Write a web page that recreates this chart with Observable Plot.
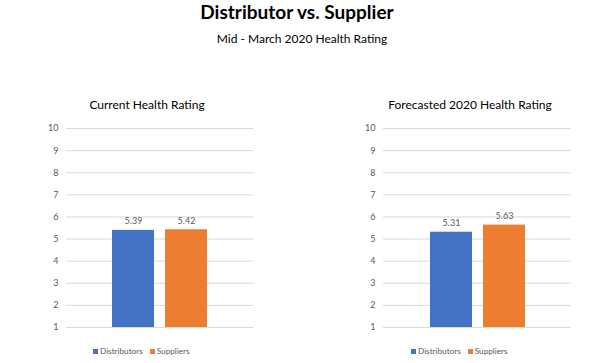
<!DOCTYPE html>
<html>
<head>
<meta charset="utf-8">
<script src="https://cdn.jsdelivr.net/npm/d3@7"></script>
<script src="https://cdn.jsdelivr.net/npm/@observablehq/plot@0.6"></script>
<style>
  html, body { margin: 0; padding: 0; background: #fff; }
  #root { position: relative; width: 616px; height: 363px; overflow: hidden; font-family: Lato, "Open Sans", sans-serif; color: #000; }
  .t { position: absolute; white-space: nowrap; transform: translateX(-50%); line-height: 1; }
  #title { left: 297px; top: 2px; font-size: 19px; font-weight: bold; }
  #subtitle { left: 302px; top: 33px; font-size: 12px; }
  .ptitle { top: 99px; font-size: 12px; }
  .plot { position: absolute; top: 118px; }
  .legend { position: absolute; top: 347px; font-size: 8.2px; color: #595959; white-space: nowrap; line-height: 1; }
  .legend span.sw { display: inline-block; width: 5px; height: 5px; margin-right: 2px; vertical-align: 0px; }
  .legend span.item { margin-right: 7px; }
</style>
</head>
<body>
<div id="root">
  <div id="title" class="t">Distributor vs. Supplier</div>
  <div id="subtitle" class="t">Mid - March 2020 Health Rating</div>
  <div class="t ptitle" style="left:147px">Current Health Rating</div>
  <div class="t ptitle" style="left:470px">Forecasted 2020 Health Rating</div>
  <div id="p1" class="plot" style="left:0px"></div>
  <div id="p2" class="plot" style="left:308px"></div>
  <div id="l1" class="legend" style="left:93px"></div>
  <div id="l2" class="legend" style="left:411px"></div>
</div>
<script>
const series = ["Distributors", "Suppliers"];
const colors = ["#4472C4", "#ED7D31"];
const currentValues = [5.39, 5.42];
const forecastValues = [5.31, 5.63];
const yTicks = [1, 2, 3, 4, 5, 6, 7, 8, 9, 10];

function panel(values, marginLeft, marginRight) {
  const data = series.map((s, i) => ({ series: s, value: values[i] }));
  return Plot.plot({
    width: 308,
    height: 222,
    marginLeft,
    marginRight,
    marginTop: 10,
    marginBottom: 13,
    style: { fontFamily: "Lato, 'Open Sans', sans-serif", fontSize: "9px", color: "#595959", background: "transparent" },
    x: { domain: series, paddingInner: 0.21, paddingOuter: 0.867, axis: null },
    y: { domain: [1, 10], ticks: yTicks, tickSize: 0, tickPadding: 8, label: null },
    color: { domain: series, range: colors },
    marks: [
      Plot.gridY(yTicks, { stroke: "#d9d9d9", strokeOpacity: 1 }),
      Plot.barY(data, { x: "series", y1: 1, y2: "value", fill: "series" }),
      Plot.text(data, { x: "series", y: "value", text: d => d.value.toFixed(2), dy: -9, fill: "#595959", fontSize: 9 }),
      Plot.axisY(yTicks, { tickSize: 0, tickPadding: 8, fill: "#595959" })
    ]
  });
}

document.getElementById("p1").appendChild(panel(currentValues, 66, 55));
document.getElementById("p2").appendChild(panel(forecastValues, 75, 45));

function legend(id) {
  const el = document.getElementById(id);
  el.innerHTML = series.map((s, i) =>
    `<span class="item"><span class="sw" style="background:${colors[i]}"></span>${s}</span>`).join("");
}
legend("l1");
legend("l2");
</script>
</body>
</html>
